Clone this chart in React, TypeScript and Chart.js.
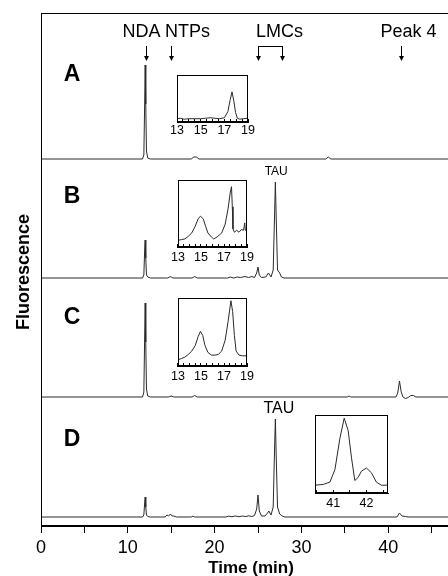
import React, { useEffect, useRef } from "react";
import { Chart, registerables } from "chart.js";

Chart.register(...registerables);

const FONT = '"Liberation Sans", Arial, Helvetica, sans-serif';

// ---------- data ----------
const panelLetters = ["A", "B", "C", "D"];
const timeTicks = [0, 5, 10, 15, 20, 25, 30, 35, 40, 45, 50];
const timeLabels = [0, 10, 20, 30, 40, 50];

const compoundNames = ["NDA", "NTPs", "LMCs", "Peak 4"];
const compoundTimes = [[12.1], [15.0], [25.0, 27.8], [41.5]];

const tauTime = 27.0;

// trace signals (time in min, fluorescence in a.u.)
const traceA: [number, number][] = [
  [0, 0], [11.7, 0], [11.85, 4], [11.95, 60], [12.0, 94], [12.07, 55], [12.15, 8], [12.3, 1], [12.6, 0],
  [17.3, 0], [17.6, 2], [17.9, 2], [18.2, 0], [32.8, 0], [33.1, 2], [33.4, 0], [50, 0],
];
const traceB: [number, number][] = [
  [0, 0], [11.7, 0], [11.85, 3], [11.95, 30], [12.0, 38], [12.07, 20], [12.15, 3], [12.3, 1], [12.6, 0],
  [14.6, 0], [14.9, 1.5], [15.2, 0], [17.4, 0], [17.7, 1.5], [18.0, 0], [21.5, 0], [21.8, 1], [22.2, 0],
  [22.6, 1], [23.0, 0.5], [23.5, 1.5], [23.9, 0.5], [24.3, 1.5], [24.6, 0.5], [24.85, 5], [25.0, 11],
  [25.15, 3], [25.4, 0.5], [25.9, 1], [26.2, 5], [26.5, 1], [26.75, 8], [26.9, 60], [27.0, 96], [27.1, 60],
  [27.25, 8], [27.5, 5], [27.7, 1], [28.0, 0], [50, 0],
];
const traceC: [number, number][] = [
  [0, 0], [11.7, 0], [11.85, 5], [11.95, 65], [12.0, 94], [12.07, 55], [12.15, 8], [12.3, 1], [12.6, 0],
  [14.7, 0], [15.0, 1], [15.3, 0], [17.4, 0], [17.7, 1.5], [18.0, 0], [35.3, 0], [35.5, 1], [35.7, 0],
  [40.9, 0], [41.1, 4], [41.3, 16], [41.5, 5], [41.7, 0], [42.0, -1.5], [42.3, -0.5], [42.6, 1.5],
  [42.9, 1.5], [43.2, 0], [50, 0],
];
const traceD: [number, number][] = [
  [0, 0], [11.7, 0], [11.85, 2], [11.95, 15], [12.0, 20], [12.07, 10], [12.15, 2], [12.3, 0.5], [12.6, 0],
  [14.3, 0], [14.5, 2], [14.7, 1], [14.9, 3], [15.1, 1], [15.3, 1], [15.6, 0], [17.3, 0], [17.5, 0.8],
  [17.7, 0], [21.3, 0], [21.6, 0.8], [22.0, 0.3], [22.4, 1], [22.8, 0.3], [23.2, 1], [23.6, 0.4],
  [23.9, 1.2], [24.3, 0.5], [24.6, 1.5], [24.85, 8], [25.0, 22], [25.15, 6], [25.4, 1], [25.8, 1],
  [26.1, 4], [26.25, 6], [26.5, 2], [26.75, 10], [26.9, 65], [27.0, 98], [27.1, 60], [27.25, 10],
  [27.5, 3], [27.8, 1], [28.1, 0], [41.0, 0], [41.3, 4], [41.6, 1], [42.0, 0.5], [42.3, 0], [50, 0],
];
const traces = [traceA, traceB, traceC, traceD];

// inset chromatograms (relative scale 0-100)
const insetA: [number, number][] = [
  [13, 7], [13.3, 8], [13.6, 6], [14, 7], [14.5, 7], [15, 7], [15.4, 8], [15.8, 9], [16.2, 8],
  [16.6, 7], [17.0, 9], [17.3, 22], [17.5, 48], [17.65, 64], [17.8, 45], [17.95, 20], [18.1, 8],
  [18.3, 6], [18.6, 7], [19, 8],
];
const insetB: [number, number][] = [
  [13, 10], [13.3, 11], [13.6, 12], [13.9, 16], [14.2, 21], [14.5, 31], [14.75, 42], [14.95, 46],
  [15.2, 42], [15.4, 31], [15.6, 21], [15.9, 15], [16.1, 12], [16.4, 15], [16.8, 21], [17.1, 34],
  [17.35, 57], [17.55, 82], [17.65, 90], [17.72, 60], [17.78, 27], [17.9, 22], [18.1, 25], [18.3, 22],
  [18.5, 26], [18.7, 25], [18.8, 36], [18.85, 25], [19, 26],
];
const insetC: [number, number][] = [
  [13, 9], [13.3, 11], [13.6, 13], [13.9, 17], [14.2, 22], [14.5, 30], [14.75, 43], [14.95, 51],
  [15.15, 45], [15.35, 30], [15.6, 20], [15.9, 16], [16.2, 16], [16.5, 17], [16.8, 22], [17.1, 38],
  [17.35, 65], [17.6, 96], [17.75, 80], [17.9, 45], [18.05, 22], [18.3, 16], [18.6, 15], [19, 15],
];
const insetD: [number, number][] = [
  [40.45, 10], [40.7, 11], [40.9, 14], [41.05, 30], [41.2, 70], [41.33, 96], [41.45, 80], [41.55, 45],
  [41.65, 16], [41.75, 20], [41.85, 28], [42.0, 32], [42.15, 26], [42.3, 14], [42.45, 10], [42.65, 10],
];
const insetTicksNTP = [13, 13.5, 14, 14.5, 15, 15.5, 16, 16.5, 17, 17.5, 18, 18.5, 19];
const insetLabelsNTP = [13, 15, 17, 19];
const insetTicksPeak4 = [40.5, 41, 41.5, 42, 42.5];
const insetLabelsPeak4 = [41, 42];

// ---------- layout (pixels / offsets, not data) ----------
const MAIN_W = 500;
const MAIN_H = 576;
const PLOT_LEFT = 41;
const PLOT_TOP = 13;
const X_AXIS_H = 50;
const Y_MAX = MAIN_H - PLOT_TOP - X_AXIS_H; // 513, one unit per pixel
const panelOffsets = [367, 248, 129, 9];
const letterRise = [84, 81, 79, 77];
const compoundDx = [-5, 16, 9, 7];
const LINE_COLOR = "#2a2a2a";

const drawArrow = (ctx: CanvasRenderingContext2D, x: number, y1: number, y2: number) => {
  ctx.beginPath();
  ctx.moveTo(x, y1);
  ctx.lineTo(x, y2 - 4);
  ctx.stroke();
  ctx.beginPath();
  ctx.moveTo(x - 2.5, y2 - 5);
  ctx.lineTo(x + 2.5, y2 - 5);
  ctx.lineTo(x, y2);
  ctx.closePath();
  ctx.fill();
};

const framePlugin = {
  id: "frame",
  afterDatasetsDraw(chart: any) {
    const { ctx, chartArea } = chart;
    ctx.save();
    ctx.strokeStyle = "#000";
    ctx.lineWidth = 1;
    ctx.strokeRect(
      Math.round(chartArea.left) + 0.5,
      Math.round(chartArea.top) + 0.5,
      Math.round(chartArea.right - chartArea.left) - 1,
      Math.round(chartArea.bottom - chartArea.top) - 1
    );
    ctx.restore();
  },
};

const annotationPlugin = {
  id: "annotations",
  afterDraw(chart: any) {
    const { ctx, scales } = chart;
    const xs = scales.x;
    const ys = scales.y;
    ctx.save();
    ctx.fillStyle = "#000";
    ctx.strokeStyle = "#000";
    ctx.lineWidth = 1;

    // compound labels and arrows
    ctx.font = `18px ${FONT}`;
    ctx.textAlign = "center";
    ctx.textBaseline = "middle";
    compoundNames.forEach((name, i) => {
      const times = compoundTimes[i];
      const px = times.map((t) => Math.round(xs.getPixelForValue(t)) + 0.5);
      const cx = px.reduce((a, b) => a + b, 0) / px.length + compoundDx[i];
      ctx.fillText(name, cx, 32);
      px.forEach((p) => drawArrow(ctx, p, 46, 61));
      if (px.length > 1) {
        ctx.beginPath();
        ctx.moveTo(px[0], 46.5);
        ctx.lineTo(px[px.length - 1], 46.5);
        ctx.stroke();
      }
    });

    // panel letters
    ctx.font = `bold 23px ${FONT}`;
    panelLetters.forEach((L, i) => {
      ctx.fillText(L, 72, ys.getPixelForValue(panelOffsets[i] + letterRise[i]));
    });

    // TAU labels
    ctx.font = `12px ${FONT}`;
    ctx.fillText("TAU", xs.getPixelForValue(tauTime + 0.1), ys.getPixelForValue(panelOffsets[1] + 106));
    ctx.font = `16px ${FONT}`;
    ctx.fillText("TAU", xs.getPixelForValue(tauTime + 0.4), ys.getPixelForValue(panelOffsets[3] + 108));

    // axis titles
    ctx.font = `bold 18px ${FONT}`;
    ctx.save();
    ctx.translate(24, 272);
    ctx.rotate(-Math.PI / 2);
    ctx.fillText("Fluorescence", 0, 0);
    ctx.restore();
    ctx.font = `bold 17px ${FONT}`;
    ctx.fillText("Time (min)", 251, 568);
    ctx.restore();
  },
};

type InsetProps = {
  data: [number, number][];
  xMin: number;
  xMax: number;
  ticks: number[];
  labels: number[];
  left: number;
  top: number;
  width: number;
  height: number;
  labelPad: number;
};

const PADX = 12;
const PADT = 2;
const INSET_AXIS_H = 20;

function Inset({ data, xMin, xMax, ticks, labels, left, top, width, height, labelPad }: InsetProps) {
  const ref = useRef<HTMLCanvasElement>(null);
  useEffect(() => {
    const chart = new Chart(ref.current as HTMLCanvasElement, {
      type: "line",
      data: {
        datasets: [
          {
            data: data.map(([x, y]) => ({ x, y })),
            borderColor: LINE_COLOR,
            borderWidth: 1,
            pointRadius: 0,
            tension: 0,
            fill: false,
          },
        ],
      },
      options: {
        animation: false,
        responsive: false,
        events: [],
        layout: { padding: { left: PADX, right: PADX, top: PADT, bottom: 0 } },
        plugins: { legend: { display: false }, tooltip: { enabled: false } },
        scales: {
          x: {
            type: "linear",
            min: xMin,
            max: xMax,
            afterBuildTicks: (s: any) => {
              s.ticks = ticks.map((v) => ({ value: v }));
            },
            afterFit: (s: any) => {
              s.height = INSET_AXIS_H;
            },
            grid: { drawOnChartArea: false, tickLength: -3, color: "#000", lineWidth: 1 },
            border: { color: "#000" },
            ticks: {
              autoSkip: false,
              maxRotation: 0,
              padding: labelPad,
              color: "#000",
              font: { family: FONT, size: 12.5 },
              callback: (v: any) => (labels.includes(Number(v)) ? String(v) : ""),
            },
          },
          y: { display: false, min: 0, max: 100 },
        },
      } as any,
      plugins: [framePlugin],
    });
    return () => chart.destroy();
  }, []);
  return (
    <canvas
      ref={ref}
      width={width + 2 * PADX}
      height={height + PADT + INSET_AXIS_H}
      style={{ position: "absolute", left: left - PADX, top: top - PADT, width: width + 2 * PADX, height: height + PADT + INSET_AXIS_H }}
    />
  );
}

function MainChart() {
  const ref = useRef<HTMLCanvasElement>(null);
  useEffect(() => {
    const chart = new Chart(ref.current as HTMLCanvasElement, {
      type: "line",
      data: {
        datasets: traces.map((tr, i) => ({
          label: panelLetters[i],
          data: tr.map(([x, y]) => ({ x, y: y + panelOffsets[i] })),
          borderColor: LINE_COLOR,
          borderWidth: 1,
          pointRadius: 0,
          tension: 0,
          fill: false,
        })),
      },
      options: {
        animation: false,
        responsive: false,
        events: [],
        layout: { padding: { left: PLOT_LEFT, top: PLOT_TOP, right: 25, bottom: 0 } },
        plugins: { legend: { display: false }, tooltip: { enabled: false } },
        scales: {
          x: {
            type: "linear",
            min: 0,
            max: 50,
            afterBuildTicks: (s: any) => {
              s.ticks = timeTicks.map((v) => ({ value: v }));
            },
            afterFit: (s: any) => {
              s.height = X_AXIS_H;
            },
            grid: { drawOnChartArea: false, tickLength: 7, color: "#000", lineWidth: 1 },
            border: { color: "#000" },
            ticks: {
              autoSkip: false,
              maxRotation: 0,
              padding: 4,
              color: "#000",
              font: { family: FONT, size: 18 },
              callback: (v: any) => (timeLabels.includes(Number(v)) ? String(v) : ""),
            },
          },
          y: { display: false, min: 0, max: Y_MAX },
        },
      } as any,
      plugins: [framePlugin, annotationPlugin],
    });
    return () => chart.destroy();
  }, []);
  return (
    <canvas
      ref={ref}
      width={MAIN_W}
      height={MAIN_H}
      style={{ position: "absolute", left: 0, top: 0, width: MAIN_W, height: MAIN_H }}
    />
  );
}

export default function App() {
  return (
    <div
      style={{
        position: "fixed",
        left: 0,
        top: 0,
        width: 448,
        height: 576,
        overflow: "hidden",
        background: "#fff",
      }}
    >
      <MainChart />
      <Inset data={insetA} xMin={13} xMax={19} ticks={insetTicksNTP} labels={insetLabelsNTP} left={177} top={75} width={71} height={47} labelPad={4} />
      <Inset data={insetB} xMin={13} xMax={19} ticks={insetTicksNTP} labels={insetLabelsNTP} left={177} top={180} width={71} height={67} labelPad={6} />
      <Inset data={insetC} xMin={13} xMax={19} ticks={insetTicksNTP} labels={insetLabelsNTP} left={177} top={298} width={71} height={68} labelPad={6} />
      <Inset data={insetD} xMin={40.45} xMax={42.65} ticks={insetTicksPeak4} labels={insetLabelsPeak4} left={315} top={415} width={73} height={78} labelPad={6} />
    </div>
  );
}
